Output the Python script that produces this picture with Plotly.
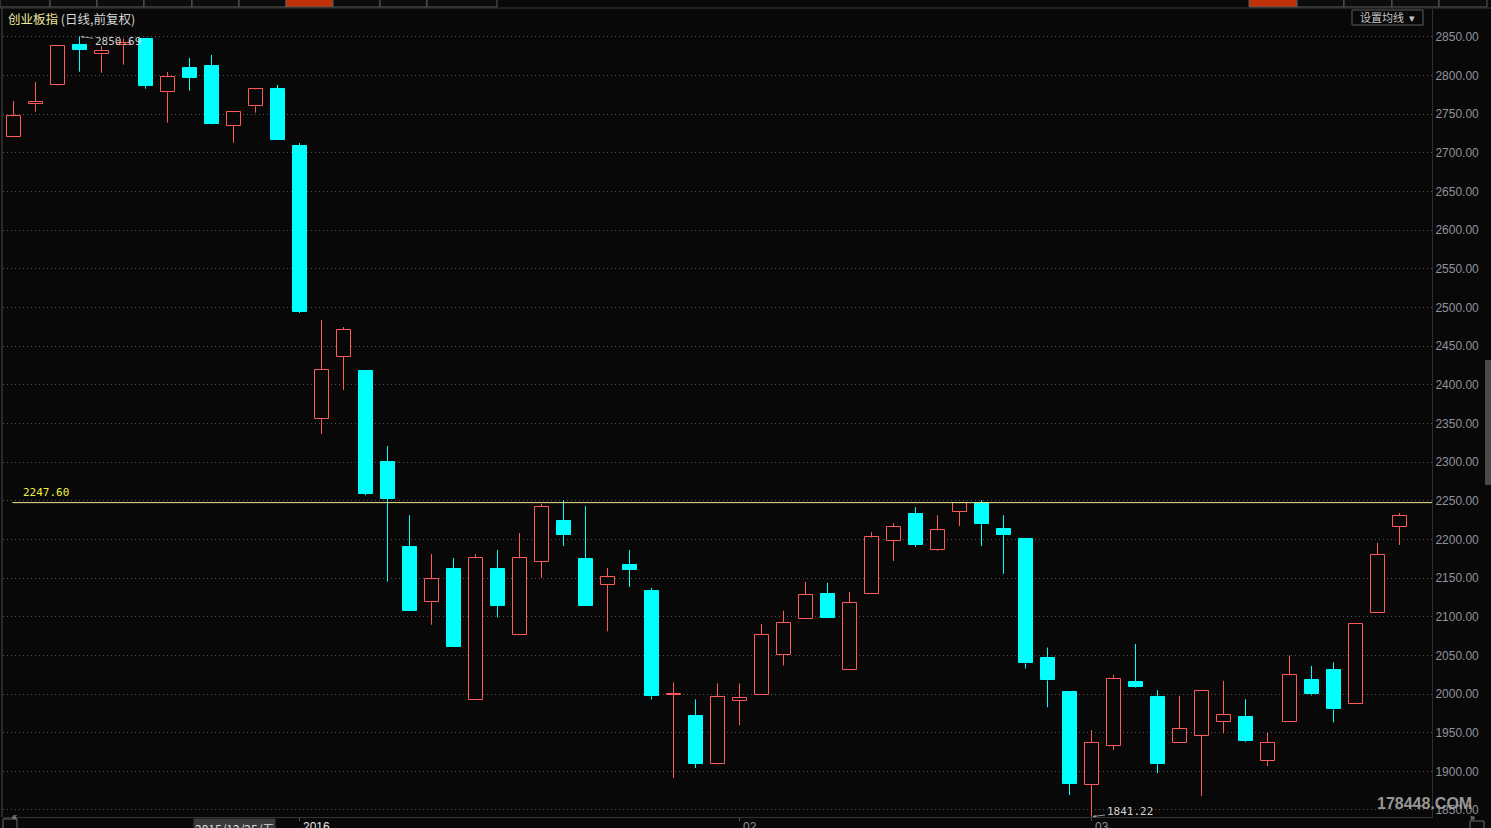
import plotly.graph_objects as go

# ---------------- data ----------------
dates = [
    "2015-12-15", "2015-12-16", "2015-12-17", "2015-12-18", "2015-12-21", "2015-12-22",
    "2015-12-23", "2015-12-24", "2015-12-25", "2015-12-28", "2015-12-29", "2015-12-30",
    "2015-12-31",
    "2016-01-04", "2016-01-05", "2016-01-06", "2016-01-07", "2016-01-08",
    "2016-01-11", "2016-01-12", "2016-01-13", "2016-01-14", "2016-01-15",
    "2016-01-18", "2016-01-19", "2016-01-20", "2016-01-21", "2016-01-22",
    "2016-01-25", "2016-01-26", "2016-01-27", "2016-01-28", "2016-01-29",
    "2016-02-01", "2016-02-02", "2016-02-03", "2016-02-04", "2016-02-05",
    "2016-02-15", "2016-02-16", "2016-02-17", "2016-02-18", "2016-02-19",
    "2016-02-22", "2016-02-23", "2016-02-24", "2016-02-25", "2016-02-26",
    "2016-02-29",
    "2016-03-01", "2016-03-02", "2016-03-03", "2016-03-04",
    "2016-03-07", "2016-03-08", "2016-03-09", "2016-03-10", "2016-03-11",
    "2016-03-14", "2016-03-15", "2016-03-16", "2016-03-17", "2016-03-18",
    "2016-03-21",
]
opens = [
    2720.2, 2762.9, 2787.5, 2839.7, 2827.6, 2839.3, 2847.4, 2778.5, 2809.9, 2812.5,
    2734.5, 2760.3, 2782.7, 2709.0, 2355.8, 2436.0, 2417.9, 2300.2, 2190.1, 2118.5,
    2161.8, 1992.3, 2161.8, 2076.0, 2171.2, 2223.6, 2174.7, 2141.6, 2167.0, 2133.5,
    1999.2, 1971.2, 1909.9, 1991.4, 1998.7, 2050.6, 2097.0, 2129.6, 2030.9, 2128.8,
    2198.3, 2232.6, 2186.7, 2235.6, 2247.2, 2213.3, 2200.4, 2047.2, 2002.8, 1882.6,
    1932.8, 2015.2, 1996.4, 1936.7, 1945.7, 1963.7, 1970.6, 1913.5, 1963.7, 2017.8,
    2030.7, 1986.9, 2104.8, 2216.0,
]
highs = [
    2767.2, 2791.8, 2838.5, 2850.69, 2838.4, 2848.0, 2849.0, 2804.7, 2822.8, 2826.7,
    2753.0, 2784.0, 2787.9, 2712.7, 2483.9, 2474.8, 2418.5, 2320.9, 2231.3, 2181.1,
    2176.0, 2181.1, 2186.3, 2208.2, 2245.5, 2250.6, 2242.9, 2163.1, 2186.3, 2137.3,
    2015.0, 1993.1, 2013.7, 2013.7, 2090.6, 2107.7, 2145.1, 2143.8, 2132.2, 2209.4,
    2221.0, 2241.6, 2231.3, 2248.0, 2250.6, 2231.3, 2200.4, 2060.1, 2003.0, 1953.4,
    2024.7, 2064.6, 2004.9, 1997.6, 2003.6, 2017.0, 1993.4, 1950.0, 2050.0, 2036.3,
    2041.0, 2090.6, 2195.4, 2234.2,
]
lows = [
    2720.0, 2753.4, 2787.0, 2805.1, 2803.8, 2814.2, 2783.1, 2739.1, 2780.5, 2737.0,
    2713.3, 2752.1, 2717.0, 2493.0, 2336.4, 2393.3, 2257.0, 2145.3, 2107.7, 2089.7,
    2061.0, 1992.0, 2099.1, 2076.0, 2150.2, 2191.4, 2114.0, 2081.1, 2138.6, 1993.1,
    1891.4, 1904.3, 1909.9, 1959.7, 1998.7, 2036.9, 2097.0, 2098.7, 2030.9, 2128.8,
    2172.1, 2190.1, 2185.4, 2217.2, 2191.4, 2155.4, 2033.0, 1982.8, 1869.3, 1841.22,
    1927.7, 2008.4, 1897.6, 1936.7, 1868.0, 1949.1, 1937.6, 1906.7, 1963.7, 1998.1,
    1963.3, 1986.9, 2104.8, 2192.8,
]
closes = [
    2747.4, 2765.9, 2838.0, 2833.6, 2831.5, 2841.8, 2787.0, 2797.9, 2797.3, 2737.8,
    2752.6, 2782.3, 2717.2, 2494.2, 2419.2, 2471.0, 2259.2, 2252.3, 2107.7, 2148.5,
    2061.4, 2175.5, 2114.2, 2175.5, 2242.5, 2205.6, 2114.2, 2151.1, 2160.5, 1997.0,
    2000.0, 1909.4, 1996.6, 1995.3, 2076.4, 2091.8, 2127.9, 2098.7, 2117.6, 2202.6,
    2216.7, 2192.7, 2211.6, 2246.8, 2219.7, 2205.6, 2039.5, 2017.6, 1883.5, 1936.7,
    2019.1, 2009.7, 1909.2, 1954.7, 2003.6, 1972.7, 1938.8, 1936.7, 2024.2, 1999.4,
    1980.0, 2090.6, 2179.9, 2230.3,
]
y_ticks = list(range(1850, 2851, 50))
ref_level = 2247.60
high_label = 2850.69
low_label = 1841.22
month_ticks = ["2016-01-04", "2016-02-01", "2016-03-01"]
month_text = ["2016", "02", "03"]
cursor_date_text = "2015/12/25/五"
title_main = "创业板指"
title_sub = " (日线,前复权)"
ma_button = "设置均线"

# ---------------- styling / geometry ----------------
W, H = 1491, 828
L, R, T, B = 3, 1432, 9, 817
BG = "#080808"
UP = "#ff5a5a"
DOWN = "#00ffff"
n = len(dates)


def px(x):
    return (x - L) / (R - L)


def py(y):
    return (B - y) / (B - T)


fig = go.Figure()

# wicks (drawn from OHLC, outside the body)
for kind, color in (("up", UP), ("down", DOWN)):
    xs, ys = [], []
    for i in range(n):
        is_up = closes[i] >= opens[i]
        if (kind == "up") != is_up:
            continue
        top = max(opens[i], closes[i])
        bot = min(opens[i], closes[i])
        xs += [dates[i], dates[i], None, dates[i], dates[i], None]
        ys += [highs[i], top, None, bot, lows[i], None]
    fig.add_trace(go.Scatter(x=xs, y=ys, mode="lines",
                             line=dict(color=color, width=1),
                             hoverinfo="skip", showlegend=False))

# bodies
BODY_W = 14 / 22
up_i = [i for i in range(n) if closes[i] >= opens[i]]
dn_i = [i for i in range(n) if closes[i] < opens[i]]
fig.add_trace(go.Bar(
    x=[dates[i] for i in up_i],
    y=[max(abs(closes[i] - opens[i]), 0.3) for i in up_i],
    base=[min(opens[i], closes[i]) for i in up_i],
    width=BODY_W, marker=dict(color=BG, line=dict(color=UP, width=1)),
    showlegend=False, hoverinfo="skip"))
fig.add_trace(go.Bar(
    x=[dates[i] for i in dn_i],
    y=[max(abs(closes[i] - opens[i]), 0.3) for i in dn_i],
    base=[min(opens[i], closes[i]) for i in dn_i],
    width=BODY_W, marker=dict(color=DOWN, line=dict(color=DOWN, width=1)),
    showlegend=False, hoverinfo="skip"))

shapes = []
annotations = []

# reference horizontal line
shapes.append(dict(type="line", xref="x", yref="y", x0=-0.05, x1=64.5,
                   y0=ref_level, y1=ref_level,
                   line=dict(color="#eeec8c", width=1)))
annotations.append(dict(xref="paper", yref="y", x=px(21), y=ref_level,
                        yshift=10, xanchor="left", yanchor="middle",
                        text=f"{ref_level:.2f}", showarrow=False,
                        font=dict(family="DejaVu Sans Mono", size=11, color="#f4f040")))

# high / low labels with arrows
annotations.append(dict(xref="x", yref="y", x=dates[3], y=high_label,
                        text=f"{high_label:.2f}", showarrow=True, arrowhead=2,
                        arrowsize=0.6, arrowwidth=1, arrowcolor="#9a9a9a",
                        ax=38, ay=5, standoff=1,
                        font=dict(family="DejaVu Sans Mono", size=11, color="#cfcfcf")))
annotations.append(dict(xref="x", yref="y", x=dates[49], y=low_label,
                        text=f"{low_label:.2f}", showarrow=True, arrowhead=2,
                        arrowsize=0.6, arrowwidth=1, arrowcolor="#9a9a9a",
                        ax=38, ay=-5, standoff=1,
                        font=dict(family="DejaVu Sans Mono", size=11, color="#cfcfcf")))

# title
annotations.append(dict(xref="paper", yref="paper", x=px(6), y=py(18),
                        xanchor="left", yanchor="middle", showarrow=False,
                        text=f"<span style='color:#ecea9c'>{title_main}</span>"
                             f"<span style='color:#d6d6d6'>{title_sub}</span>",
                        font=dict(family="Noto Sans CJK SC", size=12.5)))

# MA settings button
shapes.append(dict(type="rect", xref="paper", yref="paper",
                   x0=px(1352), x1=px(1423), y0=py(25), y1=py(10),
                   line=dict(color="#5e5e5e", width=1), fillcolor=BG))
annotations.append(dict(xref="paper", yref="paper", x=px(1358), y=py(17.5),
                        xanchor="left", yanchor="middle", showarrow=False,
                        text=ma_button + "  ▾",
                        font=dict(family="Noto Sans CJK SC", size=11, color="#c4c4c4")))

# month tick labels
for d, t in zip(month_ticks, month_text):
    annotations.append(dict(xref="x", yref="paper", x=d, y=py(818),
                            xanchor="left", yanchor="top", xshift=1, showarrow=False,
                            text=t, font=dict(family="Liberation Sans", size=12,
                                              color="#e8e8e8" if t == "2016" else "#8d8d8d")))
annotations.append(dict(xref="paper", yref="paper", x=px(234), y=py(818),
                        xanchor="center", yanchor="top", showarrow=False,
                        text=cursor_date_text, bgcolor="#3a3a3a", borderpad=1,
                        font=dict(family="Noto Sans CJK SC", size=12, color="#dcdcdc")))

# watermark
annotations.append(dict(xref="paper", yref="paper", x=px(1424), y=py(803),
                        xanchor="center", yanchor="middle", showarrow=False,
                        text="<b>178448.COM</b>",
                        font=dict(family="Liberation Sans Narrow, Liberation Sans",
                                  size=16, color="rgba(170,170,170,0.9)")))

# ---- window chrome: toolbar, borders, scroll buttons ----
tool_left = [0, 50, 97, 144, 192, 239, 286, 333, 380, 427, 497]
for a, b in zip(tool_left[:-1], tool_left[1:]):
    shapes.append(dict(type="rect", xref="paper", yref="paper",
                       x0=px(a), x1=px(b), y0=py(7), y1=py(-2),
                       line=dict(color="#5a5a5a", width=1),
                       fillcolor="#c0320a" if a == 286 else "#0c0c0c"))
tool_right = [1249, 1297, 1344, 1392, 1439, 1487]
for a, b in zip(tool_right[:-1], tool_right[1:]):
    shapes.append(dict(type="rect", xref="paper", yref="paper",
                       x0=px(a), x1=px(b), y0=py(7), y1=py(-2),
                       line=dict(color="#5a5a5a", width=1),
                       fillcolor="#c0320a" if a == 1249 else "#0c0c0c"))
shapes.append(dict(type="line", xref="paper", yref="paper", x0=px(0), x1=px(1491),
                   y0=py(8), y1=py(8), line=dict(color="#3a3a3a", width=1)))
shapes.append(dict(type="line", xref="paper", yref="paper", x0=px(2), x1=px(2),
                   y0=py(8), y1=py(817), line=dict(color="#4a4a4a", width=1)))
shapes.append(dict(type="rect", xref="paper", yref="paper", x0=px(3), x1=px(17),
                   y0=py(830), y1=py(819), line=dict(color="#6a6a6a", width=1), fillcolor=BG))
annotations.append(dict(xref="paper", yref="paper", x=px(10), y=py(825), showarrow=False,
                        text="«", font=dict(size=10, color="#aaaaaa")))
shapes.append(dict(type="rect", xref="paper", yref="paper", x0=px(1470), x1=px(1484),
                   y0=py(830), y1=py(821), line=dict(color="#6a6a6a", width=1), fillcolor=BG))
annotations.append(dict(xref="paper", yref="paper", x=px(1477), y=py(826), showarrow=False,
                        text="»", font=dict(size=10, color="#aaaaaa")))
shapes.append(dict(type="rect", xref="paper", yref="paper", x0=px(1485), x1=px(1492),
                   y0=py(485), y1=py(360), line=dict(width=0), fillcolor="#4a4a4a"))

# half-pixel shift so 1px wicks land on whole pixel columns
XSHIFT = 0.5 / 22
fig.update_layout(
    width=W, height=H,
    margin=dict(l=L, r=W - R, t=T, b=H - B, pad=0),
    paper_bgcolor=BG, plot_bgcolor=BG,
    barmode="overlay", bargap=0,
    showlegend=False,
    shapes=shapes, annotations=annotations,
    xaxis=dict(type="category", categoryorder="array", categoryarray=dates,
               range=[-0.4545 - XSHIFT, 64.5 - XSHIFT], showgrid=False, zeroline=False,
               showline=True, linecolor="#333333", linewidth=1,
               tickmode="array", tickvals=month_ticks, ticktext=["", "", ""],
               ticks="outside", ticklen=3, tickcolor="#555555",
               showticklabels=False, fixedrange=True),
    yaxis=dict(side="right", range=[1840.9, 2886.2],
               tickmode="array", tickvals=y_ticks,
               ticktext=[f"{v:.2f}" for v in y_ticks],
               tickfont=dict(family="Liberation Sans", size=12, color="#8e939c"),
               showgrid=True, gridcolor="#555555", gridwidth=1, griddash="1px,3px",
               zeroline=False, showline=True, linecolor="#2e2e2e", linewidth=1,
               ticks="", ticklabelstandoff=0, fixedrange=True),
)

fig.write_html("out.html", config={"displayModeBar": False},
               post_script="document.body.style.margin='0';"
                           "document.body.style.overflow='hidden';"
                           "document.body.style.background='#080808';")
